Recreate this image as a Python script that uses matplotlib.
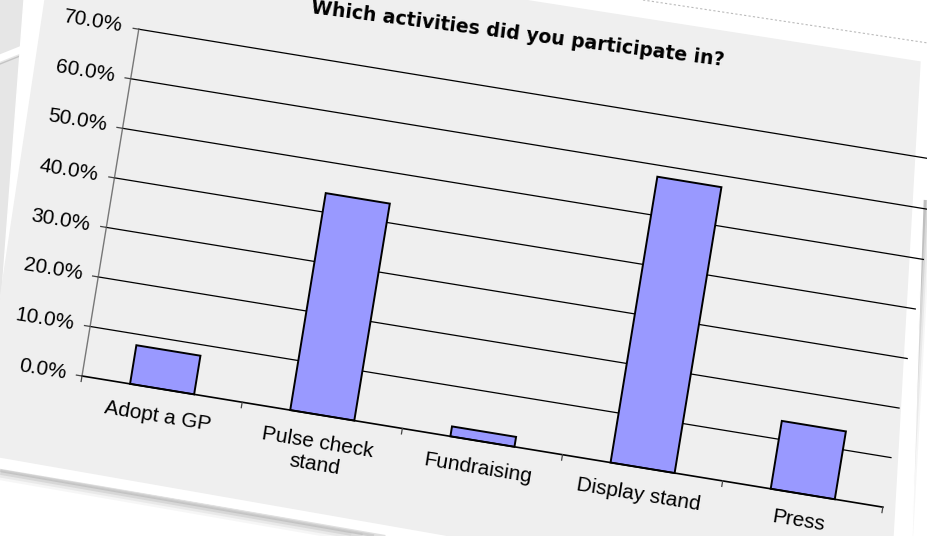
import numpy as np
import matplotlib
matplotlib.use("Agg")
import matplotlib.pyplot as plt
from matplotlib.transforms import Affine2D

# chart data
categories = ["Adopt a GP", "Pulse check\nstand", "Fundraising", "Display stand", "Press"]
values     = [7.8, 43.8, 2.0, 57.7, 13.7]
y_ticks    = [0, 10, 20, 30, 40, 50, 60, 70]
y_labels   = ["0.0%", "10.0%", "20.0%", "30.0%", "40.0%", "50.0%", "60.0%", "70.0%"]
title      = "Which activities did you participate in?"

W_PX, H_PX = 928, 536
ANGLE      = 9.3          # the whole card is tilted clockwise
CAT_PX     = 162.3        # pixels per category along the x axis
PCT_PX     = 5.02         # pixels per percent along the y axis
ORIGIN     = (82, 376)    # pixel position of the axes corner

BAR_COLOR  = "#9999ff"
PANEL      = "#efefef"
FONT       = "Liberation Sans"

fig = plt.figure(figsize=(W_PX / 100, H_PX / 100), dpi=100)
fig.patch.set_facecolor("white")
ax = fig.add_axes([0, 0, 1, 1])
ax.set_xlim(0, W_PX)
ax.set_ylim(H_PX, 0)
ax.set_autoscale_on(False)
ax.axis("off")

# chart coords (category index, percent) -> tilted pixel coords
c, s = np.cos(np.radians(ANGLE)), np.sin(np.radians(ANGLE))
M = np.array([[CAT_PX * c,  PCT_PX * s, ORIGIN[0] + 0.5 * CAT_PX * c],
              [CAT_PX * s, -PCT_PX * c, ORIGIN[1] + 0.5 * CAT_PX * s],
              [0, 0, 1]])
tr = Affine2D(M) + ax.transData

# --- card decoration (paper behind, shadow, panel) ---
ax.fill([0, 30, 30, 0], [0, 0, 330, 330], color="#e6e6e6", zorder=0)
ax.plot([0, 30], [58, 46], color="white", lw=5, zorder=0.5)
ax.plot([0, 30], [64, 52], color="#c4c4c4", lw=1, zorder=0.5)
for k, a in enumerate([0.05, 0.08, 0.12, 0.18]):
    off = 10 - 2 * k
    ax.plot([0, 460], [466 + off, 546 + off], color="#555555", lw=6 - k,
            alpha=a, zorder=0.6, solid_capstyle="butt")
    ax.plot([922 + off * 0.6, 903 + off * 0.6], [200, 536], color="#555555",
            lw=6 - k, alpha=a, zorder=0.6, solid_capstyle="butt")
card_x = [24, 928, 928, 912, 460, 0, 0]
card_y = [0, 0, 45, 536, 546, 468, 320]
ax.fill(card_x, card_y, color="white", zorder=0.8)
ax.plot([643, 928], [0, 43], color="#bbbbbb", lw=0.8, ls=(0, (2, 2)), zorder=0.9)
panel_x = [45, 523, 920, 893, 451, 0, 0]
panel_y = [0, 0, 62, 536, 536, 457, 300]
ax.fill(panel_x, panel_y, color=PANEL, zorder=1)

# --- plot ---
x = np.arange(len(categories))
x_lo, x_hi = -0.5, len(categories) - 0.5

for yt in y_ticks[1:]:
    ax.plot([x_lo, x_hi], [yt, yt], color="black", lw=0.9, transform=tr, zorder=2)

ax.bar(x, values, width=0.4, color=BAR_COLOR, edgecolor="black", linewidth=1.4,
       transform=tr, zorder=3)

# axes lines and ticks
ax.plot([x_lo, x_lo], [0, 70], color="#777777", lw=1.0, transform=tr, zorder=4)
ax.plot([x_lo, x_hi], [0, 0], color="black", lw=1.2, transform=tr, zorder=4)
for yt, lab in zip(y_ticks, y_labels):
    ax.plot([x_lo - 0.035, x_lo], [yt, yt], color="#444444", lw=0.9, transform=tr, zorder=4)
    ax.text(x_lo - 0.1, yt, lab, transform=tr, rotation=-ANGLE, rotation_mode="anchor",
            ha="right", va="center", fontsize=15, family=FONT, color="black", zorder=5)
for xb in np.arange(x_lo, x_hi + 0.01, 1.0):
    ax.plot([xb, xb], [0, -1.1], color="#444444", lw=0.9, transform=tr, zorder=4)

for xi, lab in zip(x, categories):
    ax.text(xi, -3.6, lab, transform=tr, rotation=-ANGLE, rotation_mode="anchor",
            ha="center", va="top", multialignment="center", fontsize=15,
            family=FONT, color="black", linespacing=1.25, zorder=5)

ax.text(1.81, 80.1, title, transform=tr, rotation=-7.3, rotation_mode="anchor",
        ha="center", va="baseline", fontsize=13.55, fontweight="bold",
        family="DejaVu Sans", color="black", zorder=5)

fig.savefig("out.png", dpi=100)
